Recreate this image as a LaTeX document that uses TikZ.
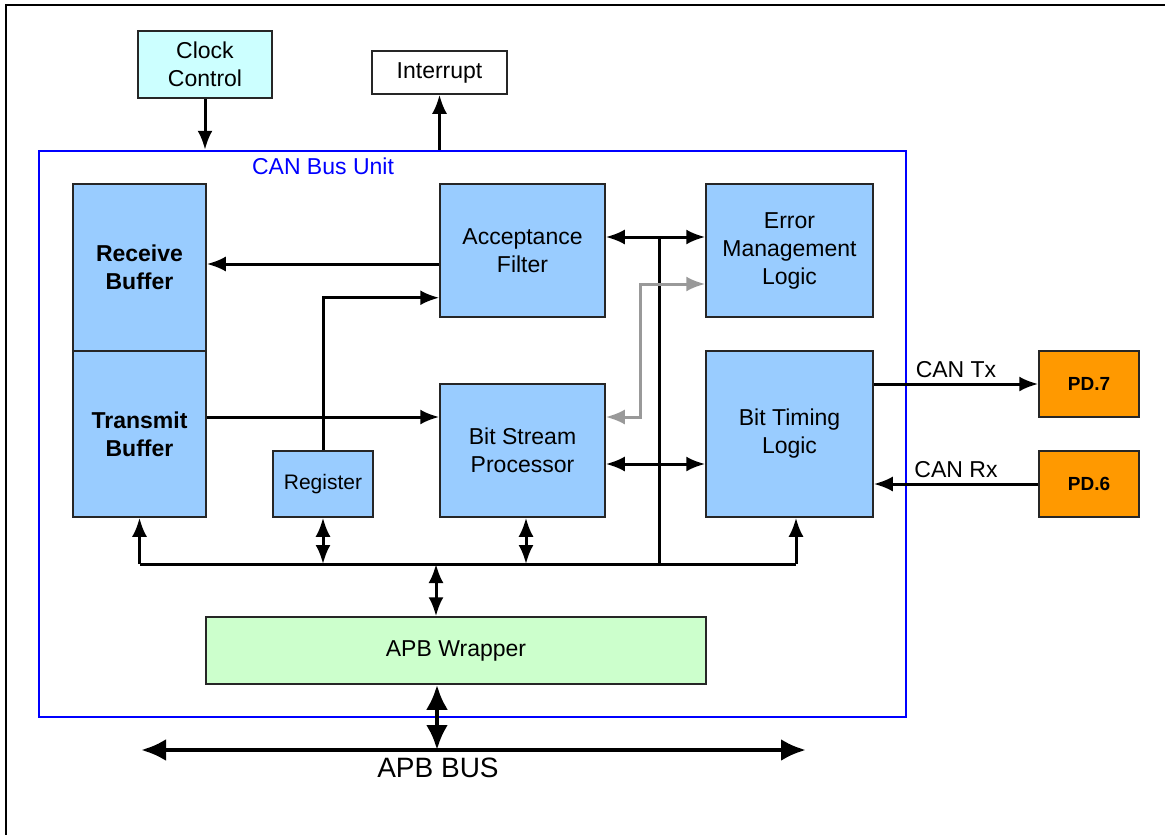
\documentclass[tikz,border=0pt]{standalone}
\usepackage{fontspec}
\setmainfont{Liberation Sans}
\usetikzlibrary{arrows.meta}
\definecolor{canblue}{HTML}{99CCFF}
\definecolor{clkcyan}{HTML}{CCFFFF}
\definecolor{apbgreen}{HTML}{CCFFCC}
\definecolor{pinorange}{HTML}{FF9900}

\begin{document}
\begin{tikzpicture}[x=1pt, y=-1pt,
    every node/.style={inner sep=0pt, align=center, font=\fontsize{23}{28}\selectfont},
    blk/.style={draw=black!85, line width=1.5pt, fill=canblue},
    arr/.style={line width=3pt, -{Latex[length=19pt,width=15pt]}},
    dbl/.style={line width=3pt, {Latex[length=19pt,width=15pt]}-{Latex[length=19pt,width=15pt]}},
    gdbl/.style={dbl, draw=black!40},
    bigdbl/.style={line width=4.5pt, {Latex[length=25pt,width=22pt]}-{Latex[length=25pt,width=22pt]}}]
    \useasboundingbox (0,0) rectangle (1165,835);
    \draw[line width=2.5pt] (6,835) -- (6,5) -- (1165,5);
    % outside blocks
    \node[blk, fill=clkcyan, minimum width=134, minimum height=67] (clk) at (205,64.5) {Clock\\Control};
    \node[blk, fill=white, minimum width=135, minimum height=43] (intr) at (439.5,72.5) {Interrupt};
    \node[draw=blue, line width=2.5pt, minimum width=867, minimum height=566] (unit) at (472.5,434) {};
    \node[text=blue] (unitlbl) at (323,166) {CAN Bus Unit};
    % CAN blocks
    \node[blk, minimum width=133, minimum height=167, font=\fontsize{23}{28}\selectfont\bfseries] (rxbuf) at (139.5,267.5) {Receive\\Buffer};
    \node[blk, minimum width=133, minimum height=166, font=\fontsize{23}{28}\selectfont\bfseries] (txbuf) at (139.5,434) {Transmit\\Buffer};
    \node[blk, minimum width=100, minimum height=66, font=\fontsize{21}{26}\selectfont] (reg) at (323,484) {Register};
    \node[blk, minimum width=165, minimum height=133] (acc) at (522.5,250.5) {Acceptance\\Filter};
    \node[blk, minimum width=165, minimum height=133] (bsp) at (522.5,450.5) {Bit Stream\\Processor};
    \node[blk, minimum width=167, minimum height=133] (err) at (789.5,250.5) {Error\\Management\\Logic};
    \node[blk, minimum width=167, minimum height=166] (btl) at (789.5,434) {Bit Timing\\Logic};
    \node[blk, fill=apbgreen, minimum width=500, minimum height=67] (apb) at (456,650.5) {APB Wrapper};
    \node[blk, fill=pinorange, minimum width=100, minimum height=66, font=\fontsize{19}{23}\selectfont\bfseries] (pd7) at (1089,384) {PD.7};
    \node[blk, fill=pinorange, minimum width=100, minimum height=66, font=\fontsize{19}{23}\selectfont\bfseries] (pd6) at (1089,484) {PD.6};
    \coordinate (hub) at (659,237);
    \coordinate (bus) at (659,564);
    \coordinate (busl) at (141,750);
    \coordinate (busr) at (806,750);

    \draw[arr] (clk.south) -- (clk.south |- unit.north);
    \draw[arr] (unit.north -| intr.south) -- (intr.south);
    \draw[arr] ([yshift=3.5pt]rxbuf.east -| acc.west) -- ([yshift=3.5pt]rxbuf.east);
    \draw[arr] (reg.north) |- ([yshift=20pt]acc.south west);
    \draw[arr] ([yshift=17pt]txbuf.east) -- ([yshift=33.5pt]bsp.west);
    \draw[dbl] (acc.east |- hub) -- (err.west |- hub);
    \draw[line width=3pt] (hub) -- (bus);
    \draw[gdbl] ([yshift=33.5pt]bsp.east) -- ++(35,0) |- ([yshift=-33.5pt]err.west);
    \draw[dbl] ([yshift=-13.5pt]bsp.east) -- ([yshift=-30pt]btl.west);
    % internal bus
    \draw[line width=3pt] (txbuf.south |- bus) -- ([xshift=6.5pt]btl.south |- bus);
    \draw[arr] (txbuf.south |- bus) -- (txbuf.south);
    \draw[dbl] (reg.south |- bus) -- (reg.south);
    \draw[dbl] ([xshift=3.5pt]bsp.south |- bus) -- ([xshift=3.5pt]bsp.south);
    \draw[arr] ([xshift=6.5pt]btl.south |- bus) -- ([xshift=6.5pt]btl.south);
    \draw[dbl] ([xshift=-20pt]apb.north |- bus) -- ([xshift=-20pt]apb.north);
    % pins
    \draw[arr] ([yshift=50pt]btl.east) -- (pd7.west) node[midway, above=5pt] (txlbl) {CAN Tx};
    \draw[arr] (pd6.west) -- (pd6.west -| btl.east) node[midway, above=5pt] (rxlbl) {CAN Rx};
    % APB bus
    \draw[bigdbl] ([xshift=-19pt]apb.south) -- ([xshift=-19pt]apb.south |- busl);
    \draw[bigdbl] (busl) -- (busr);
    \node[font=\fontsize{28}{32}\selectfont] (apbbus) at (438,768) {APB BUS};
\end{tikzpicture}
\end{document}
